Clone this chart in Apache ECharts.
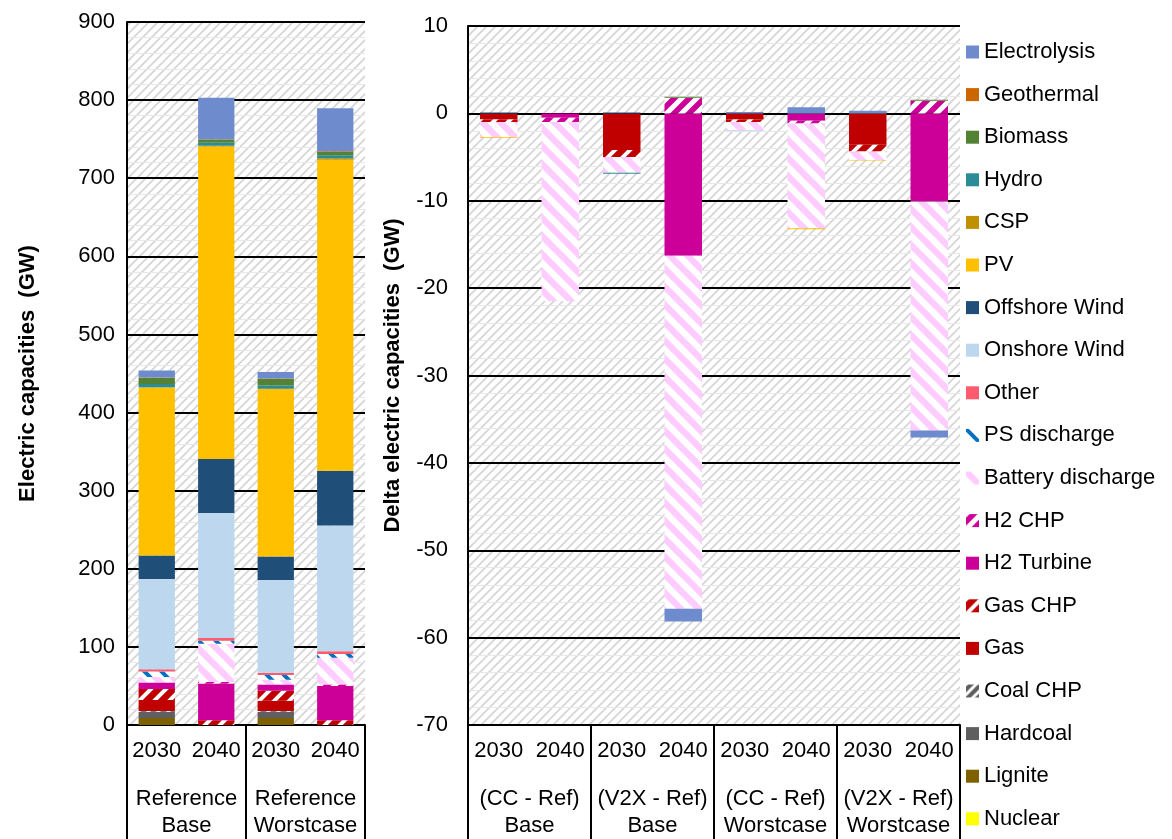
<!DOCTYPE html>
<html>
<head>
<meta charset="utf-8">
<script src="https://cdn.jsdelivr.net/npm/echarts@6/dist/echarts.min.js"></script>
<style>
  html, body { margin: 0; padding: 0; background: #fff; }
  #chart { width: 1172px; height: 839px; }
</style>
</head>
<body>
<div id="chart"></div>
<script>
// left panel: absolute capacities (GW)
const refYears = ['2030', '2040', '2030', '2040'];
const refGroups = ['Reference\nBase', 'Reference\nWorstcase'];
// right panel: differences to the reference (GW)
const deltaYears = ['2030', '2040', '2030', '2040', '2030', '2040', '2030', '2040'];
const deltaGroups = ['(CC - Ref)\nBase', '(V2X - Ref)\nBase', '(CC - Ref)\nWorstcase', '(V2X - Ref)\nWorstcase'];

// stack order, bottom to top
const techs = ['Nuclear', 'Lignite', 'Hardcoal', 'Coal CHP', 'Gas', 'Gas CHP', 'H2 Turbine', 'H2 CHP',
  'Battery discharge', 'PS discharge', 'Other', 'Onshore Wind', 'Offshore Wind', 'PV', 'CSP', 'Hydro',
  'Biomass', 'Geothermal', 'Electrolysis'];

const refNuclear = [0, 0, 0, 0];
const refLignite = [9, 0, 9, 0];
const refHardcoal = [8, 0, 8, 0];
const refCoalChp = [1, 0, 1, 0];
const refGas = [14, 0, 13, 0];
const refGasChp = [14, 6, 13, 6];
const refH2Turbine = [8.5, 47, 8, 44];
const refH2Chp = [0, 2, 0, 2];
const refBattery = [7, 49, 6, 34];
const refPs = [7, 4, 6, 5];
const refOther = [3, 3.5, 3, 3.5];
const refOnshore = [115.5, 160, 118.7, 161];
const refOffshore = [30, 69, 30, 70];
const refPv = [215, 400, 214.3, 398];
const refCsp = [0.5, 1, 0.5, 2];
const refHydro = [4, 4, 4, 4];
const refBiomass = [8, 4, 8.5, 4];
const refGeothermal = [0.5, 0.5, 0.5, 1];
const refElectrolysis = [9, 53, 8.5, 55];

const dNuclear = [0, 0, 0, 0, 0, 0, 0, 0];
const dLignite = [0, 0, 0, 0, 0, 0, 0, 0];
const dHardcoal = [0, 0, 0, 0, 0, 0, 0, 0];
const dCoalChp = [0, 0, 0, 0, 0, 0, 0, 0];
const dGas = [-0.7, 0, -4.2, 0, -0.7, 0, -3.6, 0];
const dGasChp = [-0.3, 0, -0.8, 0, -0.3, 0, -0.75, 0];
const dH2Turbine = [0, -0.5, 0, -16.3, 0, -0.85, 0, -10.1];
const dH2Chp = [0, -0.5, 0, 1.8, 0, -0.3, 0, 1.45];
const dBattery = [-1.7, -20.5, -1.8, -40.4, -0.9, -12, -1.0, -26.2];
const dPs = [0, 0, 0, 0, 0, 0, 0, 0];
const dOther = [0, 0, 0, 0, 0, 0, 0, 0];
const dOnshore = [0, 0, 0, 0, -0.1, 0, 0, 0];
const dOffshore = [0.1, 0, 0.1, 0, 0, 0, 0, 0];
const dPv = [-0.1, 0, 0, 0, 0, -0.1, -0.05, 0];
const dCsp = [0, 0, 0, 0, 0, 0, 0, 0];
const dHydro = [0, 0, -0.1, 0, 0, 0, 0, 0];
const dBiomass = [0, 0, 0, 0.1, 0, 0, 0, 0.1];
const dGeothermal = [0, 0, 0, 0, 0, 0, 0, 0];
const dElectrolysis = [0, 0, 0, -1.45, 0.15, 0.7, 0.3, -0.8];

const refData = [refNuclear, refLignite, refHardcoal, refCoalChp, refGas, refGasChp, refH2Turbine, refH2Chp,
  refBattery, refPs, refOther, refOnshore, refOffshore, refPv, refCsp, refHydro, refBiomass, refGeothermal, refElectrolysis];
const deltaData = [dNuclear, dLignite, dHardcoal, dCoalChp, dGas, dGasChp, dH2Turbine, dH2Chp,
  dBattery, dPs, dOther, dOnshore, dOffshore, dPv, dCsp, dHydro, dBiomass, dGeothermal, dElectrolysis];

// diagonal stripe tiles
function stripes(bg, fg, size, width, dir) {
  var c = document.createElement('canvas');
  c.width = c.height = size;
  var ctx = c.getContext('2d');
  ctx.fillStyle = bg;
  ctx.fillRect(0, 0, size, size);
  ctx.strokeStyle = fg;
  ctx.lineWidth = width;
  ctx.beginPath();
  [-size, 0, size].forEach(function (o) {
    if (dir === '/') { ctx.moveTo(o - 2, size + 2); ctx.lineTo(o + size + 2, -2); }
    else { ctx.moveTo(o - 2, -2); ctx.lineTo(o + size + 2, size + 2); }
  });
  ctx.stroke();
  return { image: c, repeat: 'repeat' };
}

const colors = {
  'Nuclear': '#FFFF00',
  'Lignite': '#7F6000',
  'Hardcoal': '#5F5F5F',
  'Coal CHP': stripes('#5F5F5F', '#ffffff', 10, 3, '/'),
  'Gas': '#C00000',
  'Gas CHP': stripes('#C00000', '#ffffff', 15, 4, '/'),
  'H2 Turbine': '#CC0099',
  'H2 CHP': stripes('#CC0099', '#ffffff', 15, 5, '/'),
  'Battery discharge': stripes('#ffffff', '#FFCCFF', 18, 6.5, '\\'),
  'PS discharge': stripes('#ffffff', '#0070C0', 17, 4, '\\'),
  'Other': '#FF5B6E',
  'Onshore Wind': '#BDD7EE',
  'Offshore Wind': '#1F4E79',
  'PV': '#FFC000',
  'CSP': '#BF9000',
  'Hydro': '#2A8C96',
  'Biomass': '#548235',
  'Geothermal': '#CC6600',
  'Electrolysis': '#6E8BCD'
};

const plotBg = stripes('#ffffff', '#d6d6d6', 9, 1.8, '/');
const font = 'Liberation Sans, Arial, sans-serif';

var chartDom = document.getElementById('chart');
var myChart = echarts.init(chartDom);

var series = [];
techs.forEach(function (t, i) {
  series.push({
    name: t, type: 'bar', stack: 'ref', xAxisIndex: 0, yAxisIndex: 0,
    barWidth: '61%', itemStyle: { color: colors[t] }, data: refData[i]
  });
  series.push({
    name: t, type: 'bar', stack: 'delta', xAxisIndex: 2, yAxisIndex: 1,
    barWidth: '61%', itemStyle: { color: colors[t] }, data: deltaData[i]
  });
});

function yearAxis(grid, data) {
  return {
    gridIndex: grid, type: 'category', data: data,
    axisLine: { onZero: false, lineStyle: { color: '#000', width: 2 } },
    axisTick: { show: false },
    axisLabel: { interval: 0, margin: 15, fontSize: 22, color: '#000', fontFamily: font }
  };
}
function groupAxis(grid, data) {
  return {
    gridIndex: grid, type: 'category', data: data, position: 'bottom',
    axisLine: { show: false, onZero: false },
    axisTick: { show: true, interval: 0, length: 116, lineStyle: { color: '#000', width: 2 } },
    axisLabel: { interval: 0, margin: 60, fontSize: 22, lineHeight: 27, color: '#000', fontFamily: font }
  };
}
function valueAxis(grid, min, max, interval, name, gap, margin) {
  return {
    gridIndex: grid, type: 'value', min: min, max: max, interval: interval,
    name: name, nameLocation: 'middle', nameGap: gap,
    nameTextStyle: { fontSize: 22, fontWeight: 'bold', color: '#000', fontFamily: font },
    axisLine: { show: true, lineStyle: { color: '#000', width: 2 } },
    axisTick: { show: false },
    axisLabel: { margin: margin, fontSize: 22, color: '#000', fontFamily: font },
    splitLine: { lineStyle: { color: '#000', width: 2 } },
    minorTick: { show: false, splitNumber: 5 },
    minorSplitLine: { show: true, lineStyle: { color: '#e8e8e8', width: 1 } }
  };
}

var option = {
  animation: false,
  grid: [
    { left: 127, top: 22, width: 238, height: 703, show: true, backgroundColor: plotBg, borderWidth: 0 },
    { left: 468, top: 26, width: 492, height: 700, show: true, backgroundColor: plotBg, borderWidth: 0 }
  ],
  legend: {
    orient: 'vertical', left: 961, top: 36,
    itemWidth: 13, itemHeight: 13, itemGap: 20.6, icon: 'rect',
    textStyle: { fontSize: 22, lineHeight: 22, color: '#000', fontFamily: font },
    data: techs.slice().reverse()
  },
  xAxis: [
    yearAxis(0, refYears), groupAxis(0, refGroups),
    yearAxis(1, deltaYears), groupAxis(1, deltaGroups)
  ],
  yAxis: [
    valueAxis(0, 0, 900, 100, 'Electric capacities  (GW)', 88, 12),
    valueAxis(1, -70, 10, 10, 'Delta electric capacities  (GW)', 64, 20)
  ],
  series: series
};

option && myChart.setOption(option);
</script>
</body>
</html>
